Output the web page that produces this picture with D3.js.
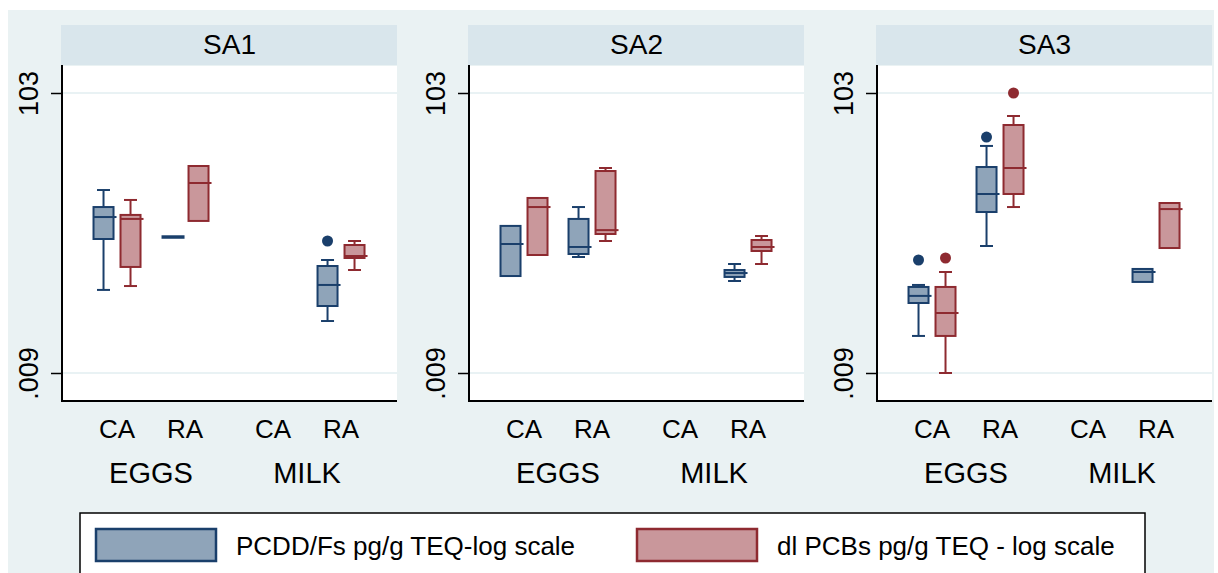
<!DOCTYPE html>
<html><head><meta charset="utf-8">
<script src="https://cdn.jsdelivr.net/npm/d3@7"></script>
<style>html,body{margin:0;padding:0;background:#fff;}svg{display:block;}</style>
</head><body>
<svg id="c" width="1218" height="573"></svg>
<script>
// ---- data ----
const panels = ["SA1", "SA2", "SA3"];
const foods = ["EGGS", "MILK"];
const areas = ["CA", "RA"];
const seriesNames = ["PCDD/Fs pg/g TEQ-log scale", "dl PCBs pg/g TEQ - log scale"];
const yTickValues = [0.009, 103];
const yTickLabels = [".009", "103"];
// each group: [lowerWhisker, q1, median, q3, upperWhisker, outliers]; order EGGS-CA, EGGS-RA, MILK-CA, MILK-RA
const pcddSA1 = [[0.144, 0.788, 1.64, 2.29, 4.04, []], [0.842, 0.842, 0.842, 0.842, 0.842, []], null, [0.051, 0.0842, 0.17, 0.32, 0.391, [0.737]]];
const pcbSA1  = [[0.164, 0.31, 1.54, 1.76, 2.9, []], [1.44, 1.44, 5.11, 9.01, 9.01, []], null, [0.28, 0.418, 0.447, 0.645, 0.737, []]];
const pcddSA2 = [[0.229, 0.229, 0.667, 1.22, 1.22, []], [0.432, 0.478, 0.604, 1.54, 2.29, []], null, [0.194, 0.222, 0.253, 0.28, 0.342, []]];
const pcbSA2  = [[0.462, 0.462, 2.29, 3.1, 3.1, []], [0.737, 0.931, 1.06, 7.62, 8.43, []], null, [0.342, 0.528, 0.604, 0.762, 0.871, []]];
const pcddSA3 = [[0.031, 0.0931, 0.118, 0.159, 0.17, [0.391]], [0.624, 1.94, 3.54, 8.71, 17.6, [23.7]], null, [0.188, 0.188, 0.262, 0.29, 0.29, []]];
const pcbSA3  = [[0.009, 0.031, 0.0667, 0.159, 0.262, [0.418]], [2.29, 3.54, 8.43, 35.4, 47.8, [103]], null, [0.583, 0.583, 2.14, 2.62, 2.62, []]];
const panelData = [[pcddSA1, pcbSA1], [pcddSA2, pcbSA2], [pcddSA3, pcbSA3]];

// ---- styles ----
const FONT = "'Liberation Sans', Arial, sans-serif";
const fills = ["#8fa4b9", "#c9979b"];
const strokes = ["#1a3f6b", "#8e2a30"];

const svg = d3.select("#c");
svg.append("rect").attr("x", 8).attr("y", 10).attr("width", 1206).attr("height", 570).attr("fill", "#eaf2f3");

const plotLefts = [62, 469, 877];
const plotW = 335;
const headerTop = 25, plotTop = 65, plotBottom = 401;

const y = d3.scaleLog().domain([103, 0.009]).range([93, 373]);
const slotPos = [0.809, 1.809, 3.103, 4.103];
const groupLabels = [];
foods.forEach(f => areas.forEach(a => groupLabels.push({food: f, area: a})));
const inner = d3.scaleBand().domain([0, 1]).range([-28, 28]).paddingInner(0.259).paddingOuter(0.1667);
const bw = inner.bandwidth();
const capW = 13;

panels.forEach((p, pi) => {
  const L = plotLefts[pi];
  const x = d3.scaleLinear().domain([0, 4.926]).range([L, L + plotW]);
  const g = svg.append("g");
  // header
  g.append("rect").attr("x", L - 1).attr("y", headerTop).attr("width", plotW + 1).attr("height", plotTop - headerTop).attr("fill", "#d9e6ec");
  g.append("text").attr("x", L + plotW / 2).attr("y", 54).attr("text-anchor", "middle")
    .attr("font-family", FONT).attr("font-size", 28).attr("fill", "#000").text(p);
  // plot area
  g.append("rect").attr("x", L).attr("y", plotTop + 1).attr("width", plotW).attr("height", plotBottom - plotTop - 1).attr("fill", "#fff");
  // gridlines
  g.selectAll(".grid").data(yTickValues).enter().append("line")
    .attr("x1", L).attr("x2", L + plotW).attr("y1", d => y(d)).attr("y2", d => y(d))
    .attr("stroke", "#e2eef0").attr("stroke-width", 1.5);
  // y axis
  const ax = g.append("g").attr("transform", `translate(${L},0)`)
    .call(d3.axisLeft(y).tickValues(yTickValues).tickFormat((d, i) => yTickLabels[i]).tickSize(11).tickSizeOuter(0));
  ax.select(".domain").remove();
  ax.selectAll(".tick line").attr("stroke", "#000").attr("stroke-width", 1.5);
  ax.selectAll(".tick text").attr("font-family", FONT).attr("font-size", 27).attr("fill", "#000")
    .attr("text-anchor", "middle").attr("x", 0).attr("dy", 0)
    .attr("transform", "translate(-24,0) rotate(-90)");
  g.append("line").attr("x1", L).attr("x2", L).attr("y1", plotTop).attr("y2", plotBottom + 1).attr("stroke", "#000").attr("stroke-width", 2);
  g.append("line").attr("x1", L).attr("x2", L + plotW).attr("y1", plotBottom).attr("y2", plotBottom).attr("stroke", "#000").attr("stroke-width", 2);
  // category labels
  groupLabels.forEach((gl, gi) => {
    g.append("text").attr("x", x(slotPos[gi])).attr("y", 438).attr("text-anchor", "middle")
      .attr("font-family", FONT).attr("font-size", 26).attr("fill", "#000").text(gl.area);
  });
  foods.forEach((f, fi) => {
    const cx = (x(slotPos[fi * 2]) + x(slotPos[fi * 2 + 1])) / 2;
    g.append("text").attr("x", cx).attr("y", 483).attr("text-anchor", "middle")
      .attr("font-family", FONT).attr("font-size", 29).attr("fill", "#000").text(f);
  });
  // boxes
  panelData[pi].forEach((series, si) => {
    series.forEach((b, gi) => {
      if (!b) return;
      const [lo, q1, med, q3, hi, outs] = b;
      const x0 = x(slotPos[gi]) + inner(si);
      const cx = x0 + bw / 2;
      const col = strokes[si];
      const bg = g.append("g");
      if (hi > q3) {
        bg.append("line").attr("x1", cx).attr("x2", cx).attr("y1", y(q3)).attr("y2", y(hi)).attr("stroke", col).attr("stroke-width", 2);
        bg.append("line").attr("x1", cx - capW / 2).attr("x2", cx + capW / 2).attr("y1", y(hi)).attr("y2", y(hi)).attr("stroke", col).attr("stroke-width", 2);
      }
      if (lo < q1) {
        bg.append("line").attr("x1", cx).attr("x2", cx).attr("y1", y(q1)).attr("y2", y(lo)).attr("stroke", col).attr("stroke-width", 2);
        bg.append("line").attr("x1", cx - capW / 2).attr("x2", cx + capW / 2).attr("y1", y(lo)).attr("y2", y(lo)).attr("stroke", col).attr("stroke-width", 2);
      }
      const h = Math.max(y(q1) - y(q3), 0);
      if (h > 0.5) {
        bg.append("rect").attr("x", x0).attr("y", y(q3)).attr("width", bw).attr("height", h)
          .attr("fill", fills[si]).attr("stroke", col).attr("stroke-width", 2);
        bg.append("line").attr("x1", x0).attr("x2", x0 + bw + 3).attr("y1", y(med)).attr("y2", y(med)).attr("stroke", col).attr("stroke-width", 2);
      } else {
        bg.append("line").attr("x1", x0).attr("x2", x0 + bw + 3).attr("y1", y(med)).attr("y2", y(med)).attr("stroke", col).attr("stroke-width", 3.5);
      }
      outs.forEach(o => {
        bg.append("circle").attr("cx", cx).attr("cy", y(o)).attr("r", 5.5).attr("fill", col);
      });
    });
  });
});

// legend
const lg = svg.append("g");
lg.append("rect").attr("x", 80).attr("y", 513).attr("width", 1065).attr("height", 80).attr("fill", "#fff").attr("stroke", "#000").attr("stroke-width", 1.5);
const legX = [95, 636];
seriesNames.forEach((s, i) => {
  lg.append("rect").attr("x", legX[i] + 1).attr("y", 529).attr("width", 120).attr("height", 32)
    .attr("fill", fills[i]).attr("stroke", strokes[i]).attr("stroke-width", 2.5);
  lg.append("text").attr("x", legX[i] + 141).attr("y", 555).attr("font-family", FONT).attr("font-size", 26).attr("fill", "#000").text(s);
});
</script>
</body></html>
